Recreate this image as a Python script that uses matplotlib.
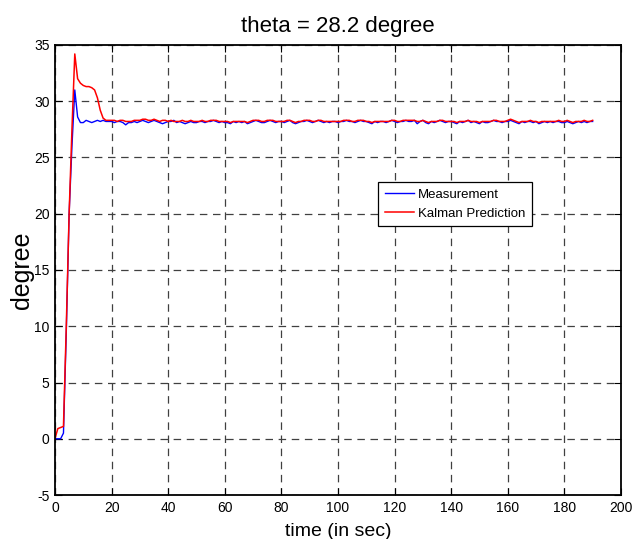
import matplotlib
matplotlib.use("Agg")
import matplotlib.pyplot as plt
import numpy as np

plt.rcParams['font.family'] = ['Liberation Sans', 'DejaVu Sans']
plt.rcParams['axes.unicode_minus'] = False

# time in seconds, one sample per second
t = np.arange(0, 191)

# measured angle (degree)
measurement = [
    0, 0, 0, 0.5, 9.5, 20.0, 26.0, 31.0, 28.6, 28.1,
    28.1, 28.3, 28.2, 28.1, 28.2, 28.3, 28.2, 28.3, 28.2, 28.2,
    28.2, 28.1, 28.2, 28.2, 28.1, 27.9, 28.1, 28.1, 28.2, 28.1,
    28.2, 28.3, 28.2, 28.1, 28.2, 28.3, 28.2, 28.1, 28.0, 28.1,
    28.2, 28.2, 28.3, 28.1, 28.2, 28.1, 28.0, 28.1, 28.2, 28.1,
    28.1, 28.2, 28.2, 28.1, 28.2, 28.2, 28.3, 28.2, 28.1, 28.2,
    28.1, 28.1, 28.0, 28.2, 28.1, 28.2, 28.1, 28.2, 28.0, 28.1,
    28.2, 28.3, 28.2, 28.1, 28.1, 28.2, 28.3, 28.2, 28.1, 28.2,
    28.2, 28.1, 28.2, 28.3, 28.1, 28.0, 28.1, 28.2, 28.2, 28.3,
    28.2, 28.1, 28.2, 28.3, 28.2, 28.1, 28.2, 28.1, 28.2, 28.2,
    28.1, 28.2, 28.2, 28.3, 28.2, 28.2, 28.1, 28.2, 28.3, 28.2,
    28.2, 28.1, 28.0, 28.2, 28.1, 28.2, 28.2, 28.1, 28.2, 28.3,
    28.2, 28.1, 28.2, 28.2, 28.3, 28.2, 28.2, 28.3, 28.0, 28.2,
    28.3, 28.1, 28.0, 28.2, 28.1, 28.2, 28.3, 28.2, 28.1, 28.2,
    28.2, 28.1, 28.0, 28.2, 28.1, 28.2, 28.3, 28.1, 28.2, 28.1,
    28.0, 28.2, 28.1, 28.1, 28.2, 28.3, 28.2, 28.2, 28.1, 28.2,
    28.2, 28.3, 28.2, 28.1, 28.0, 28.2, 28.1, 28.2, 28.2, 28.1,
    28.2, 28.0, 28.1, 28.2, 28.1, 28.2, 28.1, 28.2, 28.2, 28.1,
    28.1, 28.2, 28.1, 28.0, 28.1, 28.2, 28.1, 28.2, 28.1, 28.2,
    28.2,
]

# kalman filter estimate (degree)
kalman = [
    0, 0.9, 1.0, 1.1, 10.0, 20.0, 27.5, 34.2, 32.0, 31.6,
    31.4, 31.3, 31.3, 31.2, 31.0, 30.3, 29.2, 28.5, 28.3, 28.3,
    28.3, 28.3, 28.2, 28.3, 28.3, 28.2, 28.2, 28.2, 28.3, 28.3,
    28.3, 28.4, 28.4, 28.3, 28.3, 28.4, 28.3, 28.2, 28.3, 28.3,
    28.2, 28.3, 28.2, 28.2, 28.2, 28.3, 28.2, 28.2, 28.3, 28.2,
    28.2, 28.2, 28.3, 28.2, 28.2, 28.3, 28.3, 28.3, 28.2, 28.2,
    28.2, 28.2, 28.1, 28.2, 28.2, 28.2, 28.2, 28.2, 28.1, 28.2,
    28.3, 28.3, 28.3, 28.2, 28.2, 28.3, 28.3, 28.3, 28.2, 28.2,
    28.2, 28.2, 28.3, 28.3, 28.2, 28.1, 28.2, 28.2, 28.3, 28.3,
    28.3, 28.2, 28.2, 28.3, 28.3, 28.2, 28.2, 28.2, 28.2, 28.2,
    28.2, 28.2, 28.3, 28.3, 28.3, 28.2, 28.2, 28.3, 28.3, 28.3,
    28.2, 28.2, 28.1, 28.2, 28.2, 28.2, 28.2, 28.2, 28.2, 28.3,
    28.3, 28.2, 28.2, 28.3, 28.3, 28.3, 28.3, 28.3, 28.2, 28.2,
    28.3, 28.2, 28.1, 28.2, 28.2, 28.2, 28.3, 28.3, 28.2, 28.2,
    28.2, 28.2, 28.1, 28.2, 28.2, 28.2, 28.3, 28.2, 28.2, 28.2,
    28.1, 28.2, 28.2, 28.2, 28.2, 28.3, 28.3, 28.2, 28.2, 28.2,
    28.3, 28.4, 28.3, 28.2, 28.1, 28.2, 28.2, 28.2, 28.3, 28.2,
    28.2, 28.1, 28.2, 28.2, 28.2, 28.2, 28.2, 28.2, 28.3, 28.2,
    28.2, 28.3, 28.2, 28.1, 28.2, 28.2, 28.2, 28.3, 28.2, 28.2,
    28.3,
]

xticks = list(range(0, 201, 20))
yticks = list(range(-5, 36, 5))

fig = plt.figure(figsize=(6.37, 5.39), dpi=100)
ax = fig.add_axes([0.0863, 0.0816, 0.8885, 0.835])

ax.plot(t, measurement, color='#0000ff', lw=1.0, label='Measurement')
ax.plot(t, kalman, color='#ff0000', lw=1.1, label='Kalman Prediction')

ax.set_xlim(0, 200)
ax.set_ylim(-5, 35)
ax.set_xticks(xticks)
ax.set_yticks(yticks)
ax.grid(True, color='#404040', linestyle=(0, (6, 4.5)), lw=0.9)
ax.tick_params(direction='in', top=True, right=True, length=5, width=0.8,
               labelsize=10, pad=4)
for s in ax.spines.values():
    s.set_linewidth(1.3)

ax.set_title('theta = 28.2 degree', fontsize=16, pad=9)
ax.set_xlabel('time (in sec)', fontsize=14, labelpad=6)
ax.set_ylabel('degree', fontsize=18, labelpad=0)

leg = ax.legend(loc='upper left', bbox_to_anchor=(0.571, 0.695), fontsize=9.5,
                frameon=True, fancybox=False, framealpha=1,
                handlelength=2.2, handletextpad=0.3, borderpad=0.5,
                labelspacing=0.5, borderaxespad=0)
leg.get_frame().set_edgecolor('black')
leg.get_frame().set_linewidth(0.9)

fig.savefig('out.png', dpi=100)
